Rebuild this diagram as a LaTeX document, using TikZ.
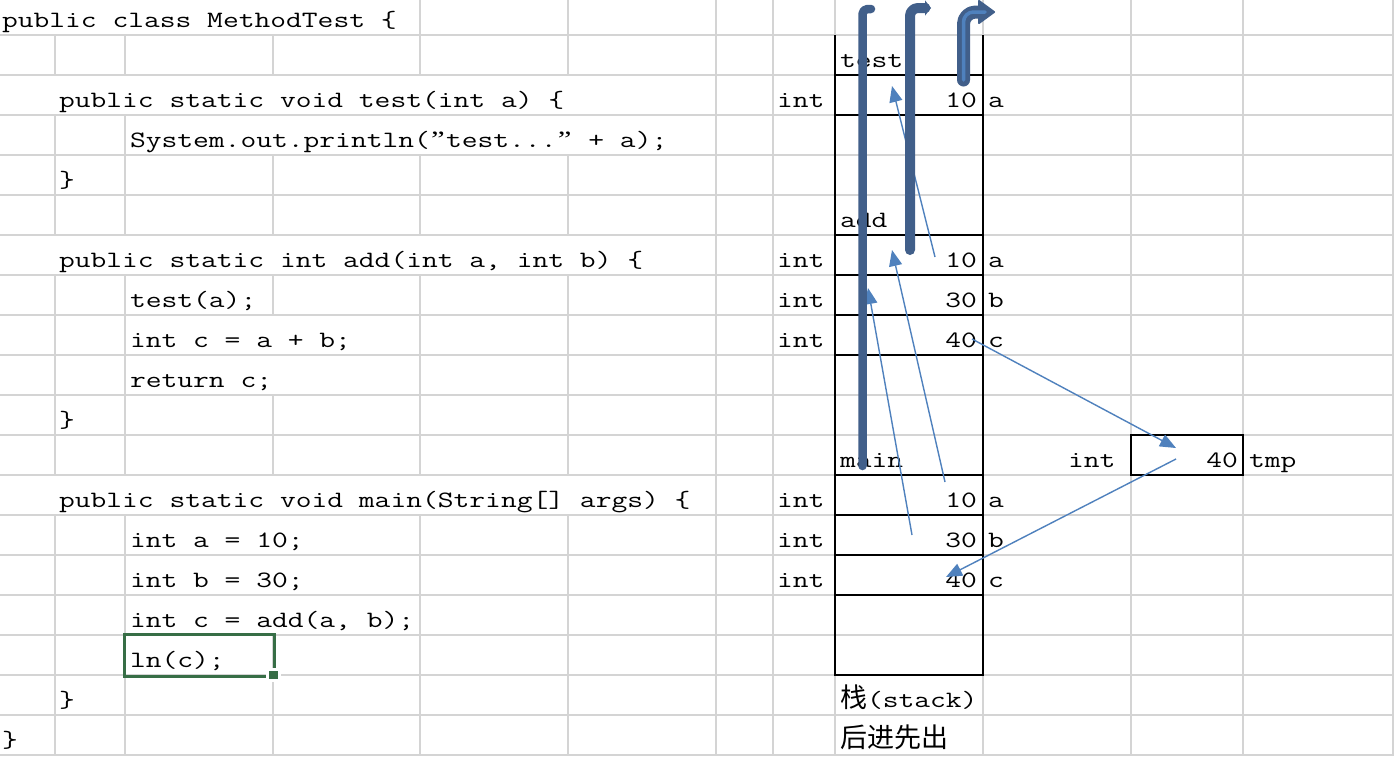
\documentclass[tikz,border=0pt]{standalone}
\usepackage{fontspec}
\usepackage{graphicx}
\usetikzlibrary{arrows.meta}
\newfontfamily\cjk{Noto Sans CJK SC}
\newfontfamily\qf{Liberation Serif}
\definecolor{gridc}{RGB}{212,212,212}
\definecolor{darkb}{RGB}{65,95,138}
\definecolor{lightb}{RGB}{79,129,189}
\definecolor{selg}{RGB}{55,110,70}
\newcommand\cd[1]{\scalebox{1.31}[1]{\fontsize{23.4}{28}\selectfont\ttfamily #1}}
\newcommand\cjktxt[1]{{\fontsize{27}{30}\selectfont\cjk #1}}
\newcommand\dqm{\makebox[12.28pt][c]{\qf ”}}
\begin{document}
\begin{tikzpicture}[x=1pt,y=-1pt,
  txt/.style={anchor=base west, inner sep=0pt, outer sep=0pt},
  txte/.style={anchor=base east, inner sep=0pt, outer sep=0pt},
  grid/.style={draw=gridc, line width=1.3pt},
  stk/.style={draw=black, line width=2pt},
  ptr/.style={draw=lightb, line width=1.4pt, -{Triangle[length=16pt,width=13pt]}},
  call/.style={draw=darkb, line cap=round, line join=round},
]
\fill[white] (0,0) rectangle (1394,756);
\useasboundingbox (0,0) rectangle (1394,756);

% ---- spreadsheet grid ----
\foreach \k in {0,...,18} \draw[grid] (0,35+40*\k) -- (1394,35+40*\k);
\foreach \x in {55,125} \foreach \a/\b in {35/75,115/235,275/475,515/756} \draw[grid] (\x,\a) -- (\x,\b);
\foreach \a/\b in {35/75,155/235,275/315,395/475,635/756} \draw[grid] (273,\a) -- (273,\b);
\foreach \x in {420,568} \foreach \a/\b in {0/75,155/235,275/475,515/756} \draw[grid] (\x,\a) -- (\x,\b);
\foreach \x in {716,773,835,983,1131,1243,1393} \draw[grid] (\x,0) -- (\x,756);

% ---- stack frame ----
\draw[stk] (835,35) -- (835,675) -- (983,675) -- (983,35);
\foreach \y in {75,115,235,275,315,355,475,515,555,595} \draw[stk] (835,\y) -- (983,\y);
\draw[stk] (1131,435) rectangle (1243,475);

% ---- selection box ----
\draw[selg, line width=3pt] (124,634) rectangle (274,676);
\fill[white] (266,668) rectangle (281,682);
\fill[selg] (269,671) rectangle (278,679);

% ---- code ----
\node[txt] (c0) at (2,27) {\cd{public class MethodTest \{}};
\node[txt] (c2) at (59,107) {\cd{public static void test(int a) \{}};
\node[txt] (c3) at (130,147) {\cd{System.out.println(\dqm test...\dqm{} + a);}};
\node[txt] (c4) at (59,187) {\cd{\}}};
\node[txt] (c6) at (59,267) {\cd{public static int add(int a, int b) \{}};
\node[txt] (c7) at (130,307) {\cd{test(a);}};
\node[txt] (c8) at (130,347) {\cd{int c = a + b;}};
\node[txt] (c9) at (130,387) {\cd{return c;}};
\node[txt] (c10) at (59,427) {\cd{\}}};
\node[txt] (c12) at (59,507) {\cd{public static void main(String[] args) \{}};
\node[txt] (c13) at (130,547) {\cd{int a = 10;}};
\node[txt] (c14) at (130,587) {\cd{int b = 30;}};
\node[txt] (c15) at (130,627) {\cd{int c = add(a, b);}};
\node[txt] (c16) at (130,667) {\cd{ln(c);}};
\node[txt] (c17) at (59,707) {\cd{\}}};
\node[txt] (c18) at (2,747) {\cd{\}}};

% ---- stack contents ----
\node[txt] (ftest) at (840,67) {\cd{test}};
\node[txt] (fadd) at (840,227) {\cd{add}};
\node[txt] (fmain) at (840,467) {\cd{main}};
\foreach \nm/\y/\v/\n in {ta/107/10/a, aa/267/10/a, ab/307/30/b, ac/347/40/c, ma/507/10/a, mb/547/30/b, mc/587/40/c}{
  \node[txt] (t\nm) at (777,\y) {\cd{int}};
  \node[txte] (v\nm) at (977,\y) {\cd{\v}};
  \node[txt] (n\nm) at (988,\y) {\cd{\n}};
}
\node[txt] (ttmp) at (1068,467) {\cd{int}};
\node[txte] (vtmp) at (1238,467) {\cd{40}};
\node[txt] (ntmp) at (1249,467) {\cd{tmp}};
\node[txt] (stk1) at (840,707) {\cjktxt{栈}\cd{(stack)}};
\node[txt] (stk2) at (840,747) {\cjktxt{后进先出}};

% ---- value passing arrows ----
\coordinate (pa1) at (935,257); \coordinate (pa2) at (892,86);
\coordinate (pb1) at (945,482); \coordinate (pb2) at (892,250);
\coordinate (pc1) at (912,535); \coordinate (pc2) at (868,288);
\coordinate (pd1) at (972,339); \coordinate (pd2) at (1176,448);
\coordinate (pe1) at (1176,459); \coordinate (pe2) at (946,577);
\draw[ptr] (pa1) -- (pa2);
\draw[ptr] (pb1) -- (pb2);
\draw[ptr] (pc1) -- (pc2);
\draw[ptr] (pd1) -- (pd2);
\draw[ptr] (pe1) -- (pe2);

% ---- call arrows ----
\coordinate (k1a) at (862.5,466); \coordinate (k1b) at (862.5,9); \coordinate (k1c) at (871,9);
\draw[call, line width=8.5pt, rounded corners=5pt] (k1a) -- (k1b) -- (k1c);
\coordinate (k2a) at (910,250); \coordinate (k2b) at (910,8); \coordinate (k2c) at (931,8);
\draw[call, line width=10pt, rounded corners=8pt, -{Triangle[length=6pt,width=15pt]}] (k2a) -- (k2b) -- (k2c);
\coordinate (k3a) at (963.5,80); \coordinate (k3b) at (963.5,12); \coordinate (k3c) at (981,12);
\draw[call, line width=13pt, rounded corners=12pt] (k3a) -- (k3b) -- (k3c);
\filldraw[fill=darkb, draw=darkb, line width=2pt, line join=round] (979,1) -- (994,12) -- (979,23) -- cycle;
\draw[lightb, line width=3.5pt, rounded corners=10pt, line cap=round] (k3a) -- (k3b) -- (985,12);
\end{tikzpicture}
\end{document}
